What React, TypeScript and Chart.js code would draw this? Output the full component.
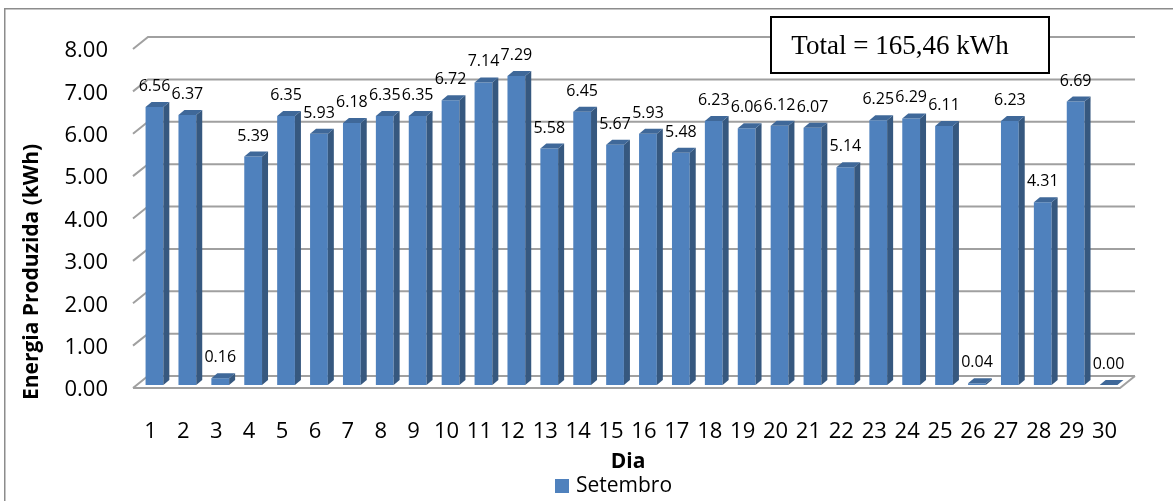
import React, { useEffect, useRef } from 'react';
import { Chart, registerables } from 'chart.js';

Chart.register(...registerables);

const days: string[] = ['1','2','3','4','5','6','7','8','9','10','11','12','13','14','15','16','17','18','19','20','21','22','23','24','25','26','27','28','29','30'];
const energy: number[] = [6.56,6.37,0.16,5.39,6.35,5.93,6.18,6.35,6.35,6.72,7.14,7.29,5.58,6.45,5.67,5.93,5.48,6.23,6.06,6.12,6.07,5.14,6.25,6.29,6.11,0.04,6.23,4.31,6.69,0.00];
const seriesName = 'Setembro';
const yTitle = 'Energia Produzida (kWh)';
const xTitle = 'Dia';
const totalText = 'Total = 165,46 kWh';
const yMin = 0;
const yMax = 8;
const yStep = 1;

const FRONT = '#4F81BD';
const SIDE = '#36587F';
const TOP = '#3F6899';
const GRID = '#A0A0A0';

const DX = 15, DY = 12;   // wall depth
const BDX = 6, BDY = 5;   // bar depth
const FX = -5, FY = 3;    // front edge offset from bar plane

const deco = {
  id: 'deco',
  beforeDraw(chart: any) {
    const ctx = chart.ctx;
    ctx.save();
    ctx.fillStyle = '#ffffff';
    ctx.fillRect(0, 0, chart.width, chart.height);
    ctx.strokeStyle = '#8c8c8c';
    ctx.lineWidth = 1.5;
    ctx.strokeRect(4.75, 8.75, 1400, 800);
    ctx.restore();
  },
  beforeDatasetsDraw(chart: any) {
    const { ctx, chartArea: a, scales } = chart;
    const y = scales.y;
    ctx.save();
    ctx.strokeStyle = GRID;
    ctx.lineWidth = 2;
    y.ticks.forEach((t: any) => {
      const yf = y.getPixelForValue(t.value) + FY;
      const xl = a.left + FX;
      const xr = a.right + FX;
      ctx.beginPath();
      ctx.moveTo(xl, yf);
      ctx.lineTo(xl + DX, yf - DY);
      ctx.lineTo(xr + DX, yf - DY);
      if (t.value === 0) {
        ctx.moveTo(xl, yf);
        ctx.lineTo(xr, yf);
        ctx.lineTo(xr + DX, yf - DY);
      }
      ctx.stroke();
    });
    ctx.restore();
  },
  afterDatasetsDraw(chart: any) {
    const ctx = chart.ctx;
    const meta = chart.getDatasetMeta(0);
    const vals = chart.data.datasets[0].data as number[];
    ctx.save();
    meta.data.forEach((bar: any, i: number) => {
      const { x, y, base, width } = bar.getProps(['x', 'y', 'base', 'width'], true);
      const l = x - width / 2;
      const r = x + width / 2;
      ctx.fillStyle = SIDE;
      ctx.beginPath();
      ctx.moveTo(r, y);
      ctx.lineTo(r + BDX, y - BDY);
      ctx.lineTo(r + BDX, base - BDY);
      ctx.lineTo(r, base);
      ctx.closePath();
      ctx.fill();
      ctx.fillStyle = TOP;
      ctx.beginPath();
      ctx.moveTo(l, y);
      ctx.lineTo(l + BDX, y - BDY);
      ctx.lineTo(r + BDX, y - BDY);
      ctx.lineTo(r, y);
      ctx.closePath();
      ctx.fill();
      ctx.fillStyle = '#000000';
      ctx.font = '16px "Open Sans"';
      ctx.textAlign = 'center';
      ctx.textBaseline = 'alphabetic';
      ctx.fillText(vals[i].toFixed(2), x, y - 16);
    });
    ctx.restore();
  },
  afterDraw(chart: any) {
    const ctx = chart.ctx;
    ctx.save();
    // Total box
    ctx.fillStyle = '#ffffff';
    ctx.fillRect(771, 17, 278, 56);
    ctx.strokeStyle = '#000000';
    ctx.lineWidth = 2;
    ctx.strokeRect(771, 17, 278, 56);
    ctx.fillStyle = '#000000';
    ctx.font = '27px "Liberation Serif"';
    ctx.textAlign = 'center';
    ctx.textBaseline = 'alphabetic';
    ctx.fillText(totalText, 900, 54);
    // Y title
    ctx.save();
    ctx.translate(32, 272);
    ctx.rotate(-Math.PI / 2);
    ctx.font = 'bold 21px "Open Sans"';
    ctx.textAlign = 'center';
    ctx.textBaseline = 'middle';
    ctx.fillText(yTitle, 0, 0);
    ctx.restore();
    // X title
    ctx.font = 'bold 21px "Open Sans"';
    ctx.textAlign = 'center';
    ctx.textBaseline = 'middle';
    ctx.fillText(xTitle, 628, 462);
    // Legend
    ctx.fillStyle = FRONT;
    ctx.fillRect(555, 479, 14, 14);
    ctx.fillStyle = '#000000';
    ctx.font = '21px "Open Sans"';
    ctx.textAlign = 'left';
    ctx.textBaseline = 'middle';
    ctx.fillText(seriesName, 576, 486);
    ctx.restore();
  },
};

export default function App() {
  const ref = useRef<HTMLCanvasElement | null>(null);
  useEffect(() => {
    if (!ref.current) return;
    const chart = new Chart(ref.current, {
      type: 'bar',
      data: {
        labels: days,
        datasets: [
          {
            label: seriesName,
            data: energy,
            backgroundColor: FRONT,
            borderWidth: 0,
            categoryPercentage: 1,
            barPercentage: 0.54,
          },
        ],
      },
      options: {
        responsive: false,
        animation: false,
        layout: { padding: { left: 0, right: 48, top: 46, bottom: 0 } },
        plugins: { legend: { display: false }, tooltip: { enabled: false } },
        scales: {
          x: {
            offset: true,
            grid: { display: false, drawTicks: false },
            border: { display: false },
            ticks: {
              autoSkip: false,
              maxRotation: 0,
              padding: 34,
              labelOffset: -4,
              color: '#000000',
              font: { family: 'Open Sans', size: 22 },
            },
            afterFit: (s: any) => { s.height = 116; },
          },
          y: {
            min: yMin,
            max: yMax,
            grid: { display: false, drawTicks: false },
            border: { display: false },
            ticks: {
              stepSize: yStep,
              padding: 30,
              labelOffset: 5,
              color: '#000000',
              font: { family: 'Open Sans', size: 22 },
              callback: (v: any) => Number(v).toFixed(2),
            },
            afterFit: (s: any) => { s.width = 138; },
          },
        },
      },
      plugins: [deco],
    });
    return () => chart.destroy();
  }, []);
  return (
    <div style={{ position: 'absolute', left: 0, top: 0, width: 1173, height: 501 }}>
      <canvas ref={ref} width={1173} height={501} />
    </div>
  );
}
